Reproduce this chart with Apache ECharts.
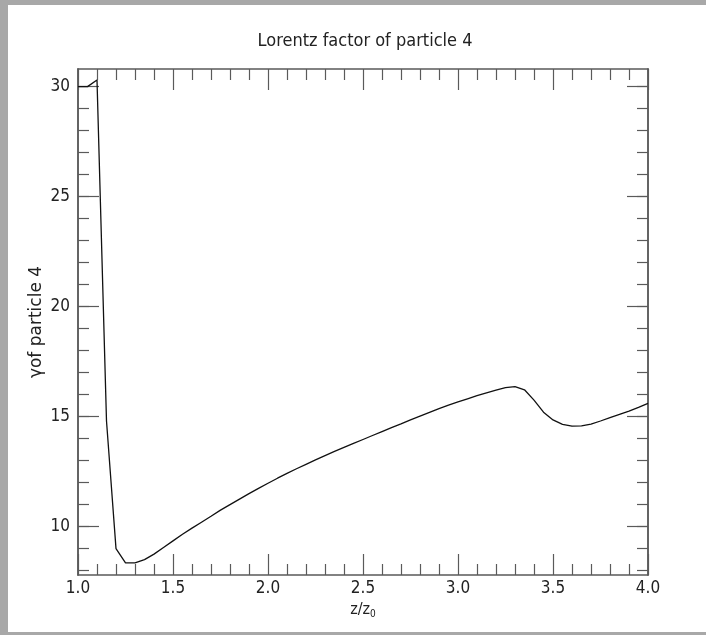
<!DOCTYPE html>
<html>
<head>
<meta charset="utf-8">
<script src="https://cdn.jsdelivr.net/npm/echarts@6/dist/echarts.min.js"></script>
<style>
  html, body { margin: 0; padding: 0; }
  body { width: 706px; height: 635px; background: #a8a8a8; position: relative; overflow: hidden; }
  #main { position: absolute; left: 8px; top: 5px; width: 698px; height: 627px; background: #fff; }
</style>
</head>
<body>
<div id="main"></div>
<script>
'use strict';
// z/z0 positions
var zValues = [
    1.00, 1.05, 1.10, 1.15, 1.20, 1.25, 1.30, 1.35, 1.40, 1.45,
    1.50, 1.55, 1.60, 1.65, 1.70, 1.75, 1.80, 1.85, 1.90, 1.95,
    2.00, 2.05, 2.10, 2.15, 2.20, 2.25, 2.30, 2.35, 2.40, 2.45,
    2.50, 2.55, 2.60, 2.65, 2.70, 2.75, 2.80, 2.85, 2.90, 2.95,
    3.00, 3.05, 3.10, 3.15, 3.20, 3.25, 3.30, 3.35, 3.40, 3.45,
    3.50, 3.55, 3.60, 3.65, 3.70, 3.75, 3.80, 3.85, 3.90, 3.95,
    4.00
];
// lorentz factor gamma
var gammaValues = [
    30.0, 30.0, 30.3, 14.8, 9.0, 8.35, 8.35, 8.5, 8.75, 9.05,
    9.35, 9.65, 9.93, 10.2, 10.47, 10.75, 11.0, 11.25, 11.5, 11.74,
    11.97, 12.2, 12.42, 12.63, 12.83, 13.03, 13.23, 13.42, 13.6, 13.78,
    13.96, 14.14, 14.32, 14.5, 14.67, 14.85, 15.02, 15.19, 15.36, 15.52,
    15.67, 15.81, 15.95, 16.08, 16.2, 16.32, 16.36, 16.22, 15.75, 15.2,
    14.85, 14.65, 14.57, 14.58, 14.66, 14.8, 14.95, 15.1, 15.25, 15.42,
    15.6
];
// tick values
var yMajorTicks = [10, 15, 20, 25, 30];
var yMinorTicks = [8, 9, 10, 11, 12, 13, 14, 15, 16, 17, 18, 19, 20, 21, 22, 23, 24, 25, 26, 27, 28, 29, 30];

var axisColor = '#5a5a5a';
var condFont = "'DejaVu Sans Condensed', 'DejaVu Sans'";
var labelFont = { fontFamily: condFont, fontSize: 17, color: '#222' };

function xAxisOf(pos, showLabel) {
    return {
        type: 'value', position: pos, min: 1, max: 4, interval: 0.5,
        name: showLabel ? 'z/z{sub|0}' : '',
        nameLocation: 'middle', nameGap: 26,
        nameTextStyle: {
            fontFamily: condFont, fontSize: 16, color: '#222',
            rich: { sub: { fontFamily: condFont, fontSize: 10, color: '#222', verticalAlign: 'bottom', padding: [8, 0, 0, 0] } }
        },
        axisLine: { show: true, lineStyle: { color: axisColor, width: 1.5 } },
        axisTick: { show: true, inside: true, length: 21, lineStyle: { color: axisColor, width: 1.2 } },
        minorTick: { show: true, splitNumber: 5, length: 11, lineStyle: { color: axisColor, width: 1.2 } },
        axisLabel: Object.assign({ show: showLabel, margin: 5, formatter: function (v) { return v.toFixed(1); } }, labelFont),
        splitLine: { show: false }
    };
}

function yAxisOf(pos, ticks, len, showLabel, nameStr) {
    return {
        type: 'value', position: pos, min: 7.8, max: 30.8,
        name: nameStr, nameLocation: 'middle', nameGap: 33, nameMoveOverlap: false,
        nameTextStyle: { fontFamily: 'DejaVu Sans', fontSize: 17, color: '#222' },
        axisLine: { show: true, onZero: false, lineStyle: { color: axisColor, width: 1.5 } },
        axisTick: { show: true, inside: true, length: len, customValues: ticks, lineStyle: { color: axisColor, width: 1.2 } },
        axisLabel: Object.assign({ show: showLabel, margin: 8, customValues: ticks }, labelFont),
        splitLine: { show: false }
    };
}

var option = {
    animation: false,
    title: {
        text: 'Lorentz factor of particle 4',
        left: 352, top: 22, textAlign: 'center',
        textStyle: { fontFamily: condFont, fontSize: 18, fontWeight: 'normal', color: '#222' }
    },
    grid: { left: 70, right: 58, top: 64, bottom: 57 },
    xAxis: [
        xAxisOf('bottom', true),
        xAxisOf('top', false)
    ],
    yAxis: [
        yAxisOf('left', yMajorTicks, 21, true, '\u03b3of particle 4'),
        yAxisOf('left', yMinorTicks, 11, false, ''),
        yAxisOf('right', yMajorTicks, 21, false, ''),
        yAxisOf('right', yMinorTicks, 11, false, '')
    ],
    series: [
        {
            type: 'line',
            xAxisIndex: 0, yAxisIndex: 0,
            symbol: 'none',
            lineStyle: { color: '#111', width: 1.3 },
            data: zValues.map(function (z, i) { return [z, gammaValues[i]]; })
        }
    ]
};

var chart = echarts.init(document.getElementById('main'));
chart.setOption(option);
</script>
</body>
</html>
